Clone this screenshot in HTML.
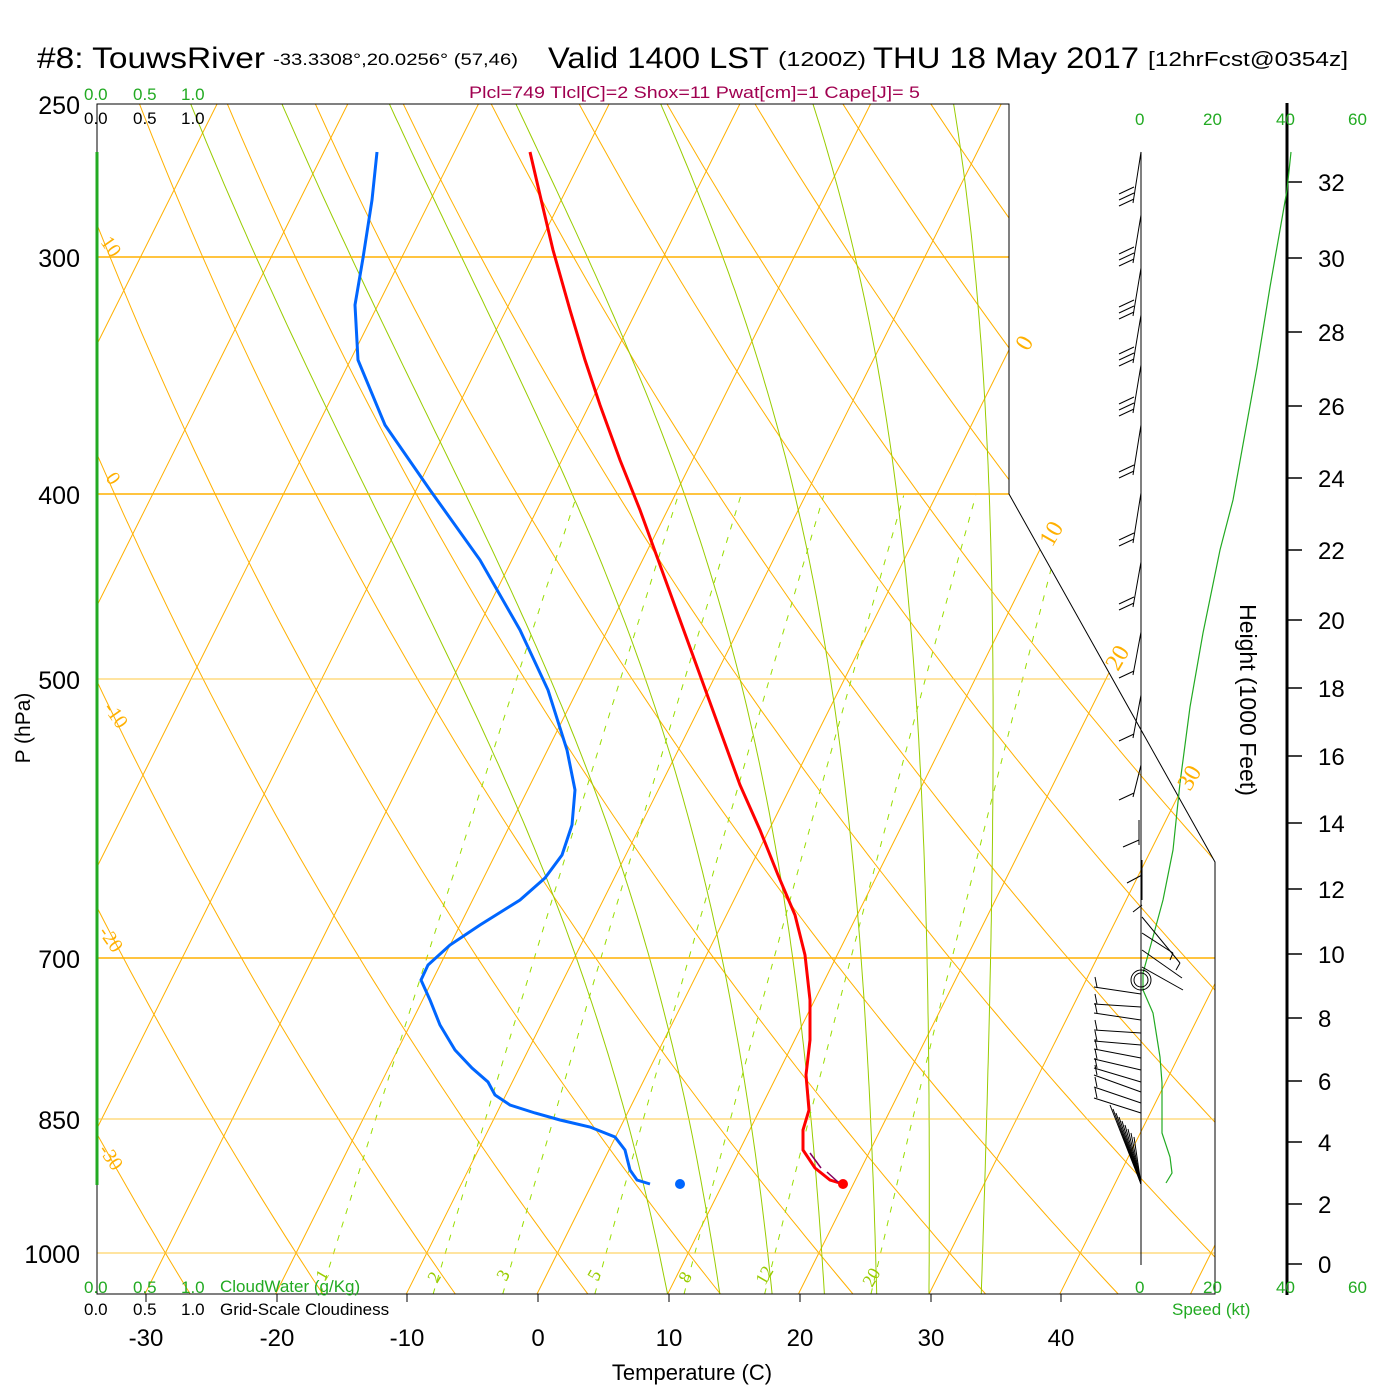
<!DOCTYPE html>
<html><head><meta charset="utf-8"><style>
body{margin:0;background:#fff;}
svg{display:block;font-family:"Liberation Sans",sans-serif;}
</style></head><body>
<svg id="s" width="1400" height="1400" viewBox="0 0 1400 1400" xmlns="http://www.w3.org/2000/svg">
<rect width="1400" height="1400" fill="#fff"/>
<defs><clipPath id="cp"><path d="M97,104 L1009,104 L1009,494 L1215,862 L1215,1294 L97,1294 Z"/></clipPath></defs>
<g id="grid" clip-path="url(#cp)" fill="none"></g>
<g stroke="#ffb000" stroke-width="1.5">
<line x1="97" y1="257" x2="1009" y2="257"/><line x1="97" y1="494" x2="1009" y2="494"/>
<line x1="97" y1="958" x2="1215" y2="958"/>
</g>
<g stroke="#ffc840" stroke-width="1">
<line x1="97" y1="679" x2="1110" y2="679"/><line x1="97" y1="1119" x2="1215" y2="1119"/><line x1="97" y1="1253" x2="1215" y2="1253"/>
</g>
<path d="M97,104 L1009,104 L1009,494 L1215,862 L1215,1294 L97,1294 Z" fill="none" stroke="#000" stroke-width="1"/>
<line x1="97" y1="152" x2="97" y2="1185" stroke="#22aa22" stroke-width="3"/>
<g stroke="#000" stroke-width="1">
<line x1="146" y1="1294" x2="146" y2="1302"/><line x1="277" y1="1294" x2="277" y2="1302"/><line x1="407" y1="1294" x2="407" y2="1302"/><line x1="538" y1="1294" x2="538" y2="1302"/><line x1="669" y1="1294" x2="669" y2="1302"/><line x1="800" y1="1294" x2="800" y2="1302"/><line x1="931" y1="1294" x2="931" y2="1302"/><line x1="1061" y1="1294" x2="1061" y2="1302"/>
</g>
<line x1="1287" y1="103" x2="1287" y2="1295" stroke="#000" stroke-width="3"/>
<g stroke="#000" stroke-width="1.5">
<line x1="1287" y1="182" x2="1302" y2="182"/><line x1="1287" y1="258" x2="1302" y2="258"/><line x1="1287" y1="332" x2="1302" y2="332"/><line x1="1287" y1="406" x2="1302" y2="406"/><line x1="1287" y1="478" x2="1302" y2="478"/><line x1="1287" y1="550" x2="1302" y2="550"/><line x1="1287" y1="620" x2="1302" y2="620"/><line x1="1287" y1="688" x2="1302" y2="688"/><line x1="1287" y1="756" x2="1302" y2="756"/><line x1="1287" y1="823" x2="1302" y2="823"/><line x1="1287" y1="889" x2="1302" y2="889"/><line x1="1287" y1="954" x2="1302" y2="954"/><line x1="1287" y1="1018" x2="1302" y2="1018"/><line x1="1287" y1="1081" x2="1302" y2="1081"/><line x1="1287" y1="1142" x2="1302" y2="1142"/><line x1="1287" y1="1204" x2="1302" y2="1204"/><line x1="1287" y1="1264" x2="1302" y2="1264"/>
</g>
<g font-size="24" fill="#000">
<text x="1318" y="191">32</text><text x="1318" y="267">30</text><text x="1318" y="341">28</text><text x="1318" y="415">26</text><text x="1318" y="487">24</text><text x="1318" y="559">22</text><text x="1318" y="629">20</text><text x="1318" y="697">18</text><text x="1318" y="765">16</text><text x="1318" y="832">14</text><text x="1318" y="898">12</text><text x="1318" y="963">10</text><text x="1318" y="1027">8</text><text x="1318" y="1090">6</text><text x="1318" y="1151">4</text><text x="1318" y="1213">2</text><text x="1318" y="1273">0</text>
</g>
<text transform="translate(1240,700) rotate(90)" font-size="23" text-anchor="middle">Height (1000 Feet)</text>
<polyline fill="none" stroke="#22aa22" stroke-width="1.2" points="1291,152 1287,190 1270,287 1257,367 1242,450 1233,500 1220,550 1203,633 1190,707 1180,783 1173,850 1163,900 1153,937 1143,973 1143,990 1153,1013 1160,1057 1162,1083 1162,1133 1170,1157 1172,1173 1166,1183"/>
<line x1="1141" y1="152" x2="1141" y2="1265" stroke="#000" stroke-width="1"/>
<g id="barbs" stroke="#000" stroke-width="1" fill="none"></g>
<circle cx="1141" cy="980" r="7" fill="none" stroke="#000"/><circle cx="1141" cy="980" r="10" fill="none" stroke="#000"/>
<polyline fill="none" stroke="#ff0000" stroke-width="3" points="530,152 540,195 553,250 570,310 585,360 600,405 620,460 640,510 660,565 680,620 700,675 720,730 740,785 760,830 778,875 795,915 805,955 810,1000 810,1040 806,1075 809,1110 803,1130 803,1150 815,1168 830,1180 843,1184"/>
<polyline fill="none" stroke="#0066ff" stroke-width="3" points="377,152 372,200 363,258 355,305 358,360 385,425 430,490 480,560 520,630 548,690 567,750 575,790 572,825 562,855 545,878 520,900 480,925 450,945 428,965 421,980 430,1000 440,1025 455,1050 472,1068 488,1082 495,1095 510,1105 535,1113 560,1120 590,1127 615,1137 625,1150 630,1170 637,1180 650,1184"/>
<g stroke="#800060" stroke-width="1.5"><line x1="810" y1="1153" x2="821" y2="1168"/><line x1="827" y1="1172" x2="838" y2="1182"/></g>
<circle cx="843" cy="1184" r="5" fill="#ff0000"/>
<circle cx="680" cy="1184" r="5" fill="#0066ff"/>
<text x="37" y="68" font-size="30" textLength="228" lengthAdjust="spacingAndGlyphs">#8: TouwsRiver</text>
<text x="273" y="65" font-size="17" textLength="245" lengthAdjust="spacingAndGlyphs">-33.3308°,20.0256° (57,46)</text>
<text x="548" y="68" font-size="30" textLength="221" lengthAdjust="spacingAndGlyphs">Valid 1400 LST</text>
<text x="778" y="66" font-size="20" textLength="88" lengthAdjust="spacingAndGlyphs">(1200Z)</text>
<text x="873" y="68" font-size="30" textLength="266" lengthAdjust="spacingAndGlyphs">THU 18 May 2017</text>
<text x="1148" y="66" font-size="20" textLength="200" lengthAdjust="spacingAndGlyphs">[12hrFcst@0354z]</text>
<text x="469" y="98" font-size="17" fill="#a00050" textLength="451" lengthAdjust="spacingAndGlyphs">Plcl=749 Tlcl[C]=2 Shox=11 Pwat[cm]=1 Cape[J]= 5</text>
<g font-size="17" fill="#22aa22"><text x="84" y="100">0.0</text><text x="133" y="100">0.5</text><text x="181" y="100">1.0</text>
<text x="84" y="1293">0.0</text><text x="133" y="1293">0.5</text><text x="181" y="1293">1.0</text><text x="220" y="1292">CloudWater (g/Kg)</text>
<text x="1135" y="125">0</text><text x="1203" y="125">20</text><text x="1276" y="125">40</text><text x="1348" y="125">60</text>
<text x="1135" y="1293">0</text><text x="1203" y="1293">20</text><text x="1276" y="1293">40</text><text x="1348" y="1293">60</text>
<text x="1172" y="1315">Speed (kt)</text></g>
<g font-size="17" fill="#000"><text x="84" y="124">0.0</text><text x="133" y="124">0.5</text><text x="181" y="124">1.0</text>
<text x="84" y="1315">0.0</text><text x="133" y="1315">0.5</text><text x="181" y="1315">1.0</text><text x="220" y="1315">Grid-Scale Cloudiness</text></g>
<g font-size="25" fill="#000" text-anchor="end"><text x="80" y="114">250</text><text x="80" y="267">300</text><text x="80" y="504">400</text><text x="80" y="689">500</text><text x="80" y="968">700</text><text x="80" y="1129">850</text><text x="80" y="1263">1000</text></g>
<text transform="translate(30,728) rotate(-90)" font-size="21" text-anchor="middle">P (hPa)</text>
<g font-size="24" fill="#000" text-anchor="middle"><text x="146" y="1346">-30</text><text x="277" y="1346">-20</text><text x="407" y="1346">-10</text><text x="538" y="1346">0</text><text x="669" y="1346">10</text><text x="800" y="1346">20</text><text x="931" y="1346">30</text><text x="1061" y="1346">40</text></g>
<text x="692" y="1380" font-size="22" text-anchor="middle">Temperature (C)</text>
<g font-size="20" fill="#ffb000" font-family="Liberation Serif,serif">
<text transform="translate(100,242) rotate(55)">10</text><text transform="translate(105,478) rotate(55)">0</text><text transform="translate(103,708) rotate(55)">-10</text><text transform="translate(98,932) rotate(55)">-20</text><text transform="translate(98,1150) rotate(55)">-30</text>
<text transform="translate(1028,352) rotate(-60)" font-size="24">0</text><text transform="translate(1052,548) rotate(-60)" font-size="24">10</text><text transform="translate(1118,672) rotate(-60)" font-size="24">20</text><text transform="translate(1190,792) rotate(-60)" font-size="24">30</text>
</g>
<g font-size="18" fill="#99cc00" font-family="Liberation Serif,serif">
<text transform="translate(325,1282) rotate(-60)">1</text><text transform="translate(437,1284) rotate(-60)">2</text><text transform="translate(506,1282) rotate(-60)">3</text><text transform="translate(597,1282) rotate(-60)">5</text><text transform="translate(688,1284) rotate(-60)">8</text><text transform="translate(765,1286) rotate(-60)">12</text><text transform="translate(872,1288) rotate(-60)">20</text>
</g>
</svg>
<script>
(function(){
var NS="http://www.w3.org/2000/svg";
function Y(p){return 1253+829*Math.log(p/1000);}
function X(T,p){return 537+13.07*T+0.5*(1294-Y(p));}
var g=document.getElementById('grid');
function path(pts,stroke,w,dash){var d="";for(var i=0;i<pts.length;i++){d+=(i?"L":"M")+pts[i][0].toFixed(1)+","+pts[i][1].toFixed(1);}
var e=document.createElementNS(NS,'path');e.setAttribute('d',d);e.setAttribute('stroke',stroke);e.setAttribute('stroke-width',w);if(dash)e.setAttribute('stroke-dasharray',dash);g.appendChild(e);}
for(var T=-150;T<=60;T+=10){path([[X(T,1051),Y(1051)],[X(T,240),Y(240)]],"#ffb000",1);}
for(var th=-40;th<=230;th+=10){var pts=[];for(var p=1060;p>=240;p-=10){var Tk=(th+273.15)*Math.pow(p/1000,0.286);pts.push([X(Tk-273.15,p),Y(p)]);}path(pts,"#ffb000",1);}
function es(Tc){return 6.112*Math.exp(17.67*Tc/(Tc+243.5));}
var starts=[10,14,18,22,26,30,34];
for(var k=0;k<starts.length;k++){var Tk=starts[k]+273.15;var lp=Math.log(1051);var pts=[];
while(lp>Math.log(240)){var p=Math.exp(lp),Tc=Tk-273.15;var e=es(Tc);var rs=0.622*e/(p-e);
pts.push([X(Tc,p),Y(p)]);var d=(287*Tk+2.5e6*rs)/(1004+2.5e6*2.5e6*rs*0.622/(287*Tk*Tk));Tk+=d*(-0.01);lp-=0.01;}
path(pts,"#99cc00",1);}
var ws=[1,2,3,5,8,12,20];
for(var k=0;k<ws.length;k++){var pts=[];for(var p=1051;p>=400;p-=10){var e=ws[k]*p/(622+ws[k]);var l=Math.log(e/6.112);var Td=243.5*l/(17.67-l);pts.push([X(Td,p),Y(p)]);}path(pts,"#99dd00",1,"6,8");}
var b=document.getElementById('barbs');
function ln(x1,y1,x2,y2){var e=document.createElementNS(NS,'line');e.setAttribute('x1',x1);e.setAttribute('y1',y1);e.setAttribute('x2',x2);e.setAttribute('y2',y2);b.appendChild(e);}
var up=[[152,203,3],[215,263,3],[268,316,3],[315,363,3],[365,413,3],[425,475,2],[493,543,2],[562,607,2],[632,675,1],[695,738,1],[765,797,1]];
for(var i=0;i<up.length;i++){var a=up[i];ln(1141,a[0],1133,a[1]);for(var j=0;j<a[2];j++){var yy=a[1]-j*6;ln(1134,yy-4,1119,yy+3);}}
ln(1139,820,1139,845);ln(1139,840,1123,847);ln(1142,860,1142,900);ln(1142,875,1127,883);ln(1142,905,1133,912);
ln(1142,917,1180,963);ln(1142,933,1173,953);ln(1142,950,1182,978);ln(1142,967,1183,990);ln(1173,953,1170,960);ln(1180,963,1176,970);
var hz=[[994,987],[1007,1004],[1020,1013],[1033,1030],[1045,1041],[1058,1049],[1070,1059],[1082,1068],[1092,1075],[1103,1087],[1113,1098]];
for(var i=0;i<hz.length;i++){ln(1141,hz[i][0],1094,hz[i][1]);ln(1097,hz[i][1],1095,hz[i][1]-10);}
for(var i=0;i<9;i++){var x=1110+i*3,y=1105+i*4;ln(1141,1184,x,y);}
})();
</script>
</body></html>
